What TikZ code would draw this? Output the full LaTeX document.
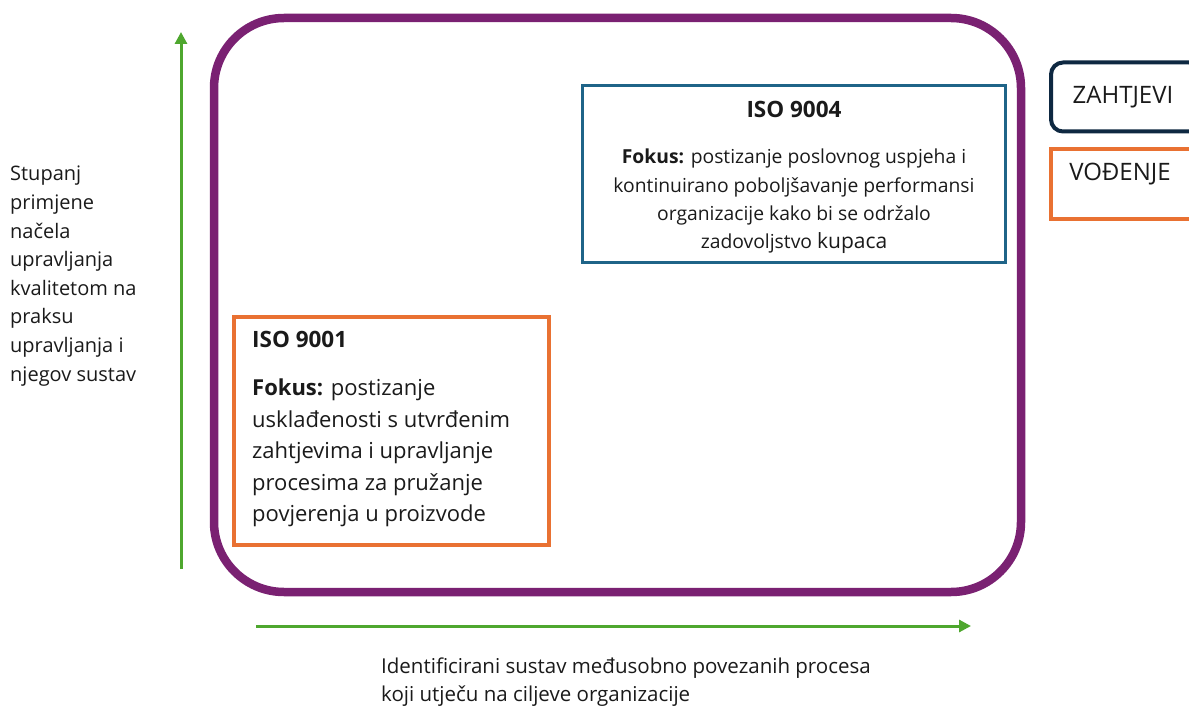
\documentclass[tikz,border=0pt]{standalone}
\usepackage{fontspec}
\setmainfont{Open Sans}
\usetikzlibrary{arrows.meta}
\definecolor{framepurple}{HTML}{7A2172}
\definecolor{agreen}{HTML}{4EA72E}
\definecolor{bblue}{HTML}{1F6488}
\definecolor{oorange}{HTML}{E97132}
\definecolor{navy}{HTML}{0E2841}
\definecolor{txt}{HTML}{1A1A1A}
\tikzset{
  garrow/.style={draw=agreen, line width=3pt, -{Triangle[length=12pt,width=12pt]}},
  lab/.style={text=txt, inner sep=0pt, align=left},
}
\begin{document}
\begin{tikzpicture}[x=1pt,y=-1pt]
\useasboundingbox (0,0) rectangle (1189,706);
\clip (0,0) rectangle (1189,706);
% frame
\node[draw=framepurple, line width=8.5pt, rounded corners=70pt, minimum width=807pt, minimum height=574pt, inner sep=0pt] (frame) at (617.5,305) {};
% axes
\coordinate (vs) at (181,569);
\coordinate (ve) at (181,32);
\draw[garrow] (vs) -- (ve);
\coordinate (hs) at (256,626);
\coordinate (he) at (971,626);
\draw[garrow] (hs) -- (he);
% ISO 9004
\node[draw=bblue, line width=2.5pt, minimum width=423pt, minimum height=177pt, inner sep=0pt] (b9004) at (794,174) {};
\node[lab, font=\fontsize{22.5}{28}\selectfont\bfseries] (t9004) at (794,109) {ISO 9004};
\node[lab, align=center, anchor=north, font=\fontsize{19.3}{28.3}\selectfont] (f9004) at (794,149)
  {\textbf{Fokus:} postizanje poslovnog uspjeha i\\kontinuirano poboljšavanje performansi\\organizacije kako bi se održalo\\zadovoljstvo {\fontsize{21}{28.3}\selectfont kupaca}};
% ISO 9001
\node[draw=oorange, line width=4pt, minimum width=315pt, minimum height=228pt, inner sep=0pt] (b9001) at (391,430.5) {};
\node[lab, anchor=west, font=\fontsize{22.5}{30}\selectfont\bfseries] (t9001) at (252,339) {ISO 9001};
\node[lab, anchor=north west, font=\fontsize{22}{31.5}\selectfont] (f9001) at (252,379)
  {\textbf{Fokus:} postizanje\\usklađenosti s utvrđenim\\zahtjevima i upravljanje\\procesima za pružanje\\povjerenja u proizvode};
% legend
\node[draw=navy, line width=4pt, rounded corners=12pt, minimum width=150pt, minimum height=69pt, inner sep=0pt] (zaht) at (1126,97) {};
\node[lab, font=\fontsize{24}{24}\selectfont] (tzaht) at (1123,97) {ZAHTJEVI};
\node[draw=oorange, line width=4pt, minimum width=150pt, minimum height=70pt, inner sep=0pt] (vod) at (1126,184) {};
\node[lab, font=\fontsize{24}{24}\selectfont] (tvod) at (1120,174) {VOĐENJE};
% axis labels
\node[lab, anchor=north west, font=\fontsize{20}{28.6}\selectfont] (ylab) at (10,166)
  {Stupanj\\primjene\\načela\\upravljanja\\kvalitetom na\\praksu\\upravljanja i\\njegov sustav};
\node[lab, anchor=north west, font=\fontsize{20.5}{28}\selectfont] (xlab) at (381,657.5)
  {Identificirani sustav međusobno povezanih procesa\\koji utječu na ciljeve organizacije};
\end{tikzpicture}
\end{document}
